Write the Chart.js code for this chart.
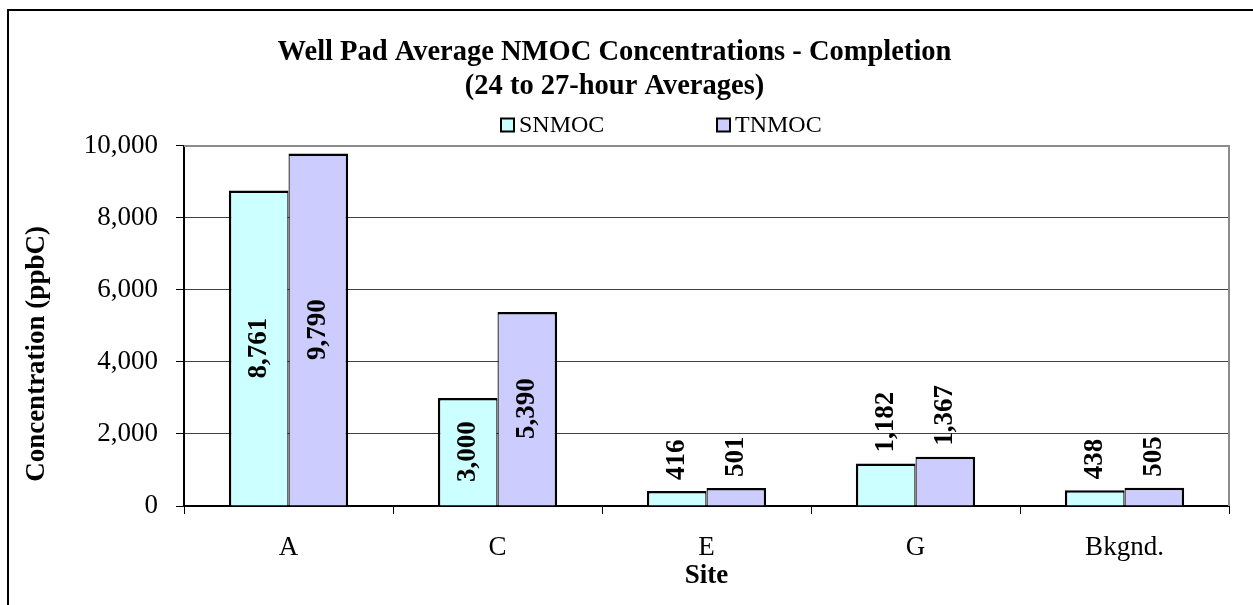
<!DOCTYPE html>
<html>
<head>
<meta charset="utf-8">
<title>Well Pad Average NMOC Concentrations - Completion</title>
<script src="https://cdn.jsdelivr.net/npm/chart.js@4.4.1/dist/chart.umd.min.js"></script>
<style>
  html, body { margin: 0; padding: 0; background: #fff; }
  #wrap { width: 1253px; height: 605px; }
</style>
</head>
<body>
<div id="wrap"><canvas id="chart" width="1253" height="605"></canvas></div>
<script>
// Sites sampled and their average concentrations (ppbC)
const sites = ['A', 'C', 'E', 'G', 'Bkgnd.'];
const snmoc = [8761, 3000, 416, 1182, 438];
const tnmoc = [9790, 5390, 501, 1367, 505];
const seriesNames = ['SNMOC', 'TNMOC'];
const yTicks = [0, 2000, 4000, 6000, 8000, 10000];

const SERIF = '"Liberation Serif", "Times New Roman", Times, serif';

// White page with the outer frame (left and top edges)
const framePlugin = {
  id: 'frame',
  beforeDraw(chart) {
    const ctx = chart.ctx;
    ctx.save();
    ctx.fillStyle = '#fff';
    ctx.fillRect(0, 0, chart.width, chart.height);
    ctx.fillStyle = '#000';
    ctx.fillRect(7, 9, 2, chart.height);
    ctx.fillRect(7, 9, chart.width, 2);
    ctx.restore();
  }
};

// Gray top and right edges of the plot area
const plotBorderPlugin = {
  id: 'plotBorder',
  beforeDatasetsDraw(chart) {
    const {ctx, chartArea: a} = chart;
    ctx.save();
    ctx.strokeStyle = '#8c8c8c';
    ctx.lineWidth = 2;
    ctx.beginPath();
    ctx.moveTo(a.left, a.top);
    ctx.lineTo(a.right, a.top);
    ctx.lineTo(a.right, a.bottom);
    ctx.stroke();
    ctx.restore();
  }
};

// Legend: two swatches spread across the space above the plot
const legendPlugin = {
  id: 'spreadLegend',
  afterDraw(chart) {
    const {ctx, chartArea: a} = chart;
    const offsets = [317, 533];
    const cy = 125;
    ctx.save();
    ctx.font = '24px ' + SERIF;
    ctx.textBaseline = 'middle';
    ctx.textAlign = 'left';
    chart.data.datasets.forEach((ds, i) => {
      const bx = a.left + offsets[i];
      ctx.fillStyle = ds.backgroundColor;
      ctx.fillRect(bx, cy - 6.5, 13, 13);
      ctx.strokeStyle = '#000';
      ctx.lineWidth = 2;
      ctx.strokeRect(bx, cy - 6.5, 13, 13);
      ctx.fillStyle = '#000';
      ctx.fillText(ds.label, bx + 18, cy + 1);
    });
    ctx.restore();
  }
};

// Vertical axis caption
const yCaptionPlugin = {
  id: 'yCaption',
  afterDraw(chart) {
    const {ctx, chartArea: a} = chart;
    ctx.save();
    ctx.translate(37, (a.top + a.bottom) / 2 + 28);
    ctx.rotate(-Math.PI / 2);
    ctx.font = 'bold 27px ' + SERIF;
    ctx.fillStyle = '#000';
    ctx.textAlign = 'center';
    ctx.textBaseline = 'middle';
    ctx.fillText('Concentration (ppbC)', 0, 0);
    ctx.restore();
  }
};

// Rotated value labels: centred in tall bars, just above short ones
const valueLabelPlugin = {
  id: 'valueLabels',
  afterDatasetsDraw(chart) {
    const ctx = chart.ctx;
    ctx.save();
    ctx.font = 'bold 27px ' + SERIF;
    ctx.fillStyle = '#000';
    ctx.textBaseline = 'middle';
    chart.data.datasets.forEach((ds, di) => {
      const meta = chart.getDatasetMeta(di);
      meta.data.forEach((bar, i) => {
        const text = ds.data[i].toLocaleString('en-US');
        const w = ctx.measureText(text).width;
        const len = bar.base - bar.y;
        ctx.save();
        if (len >= w + 12) {
          ctx.translate(bar.x, (bar.y + bar.base) / 2);
          ctx.rotate(-Math.PI / 2);
          ctx.textAlign = 'center';
        } else {
          ctx.translate(bar.x, bar.y - 11);
          ctx.rotate(-Math.PI / 2);
          ctx.textAlign = 'left';
        }
        ctx.fillText(text, 0, 0);
        ctx.restore();
      });
    });
    ctx.restore();
  }
};

new Chart(document.getElementById('chart'), {
  type: 'bar',
  data: {
    labels: sites,
    datasets: [
      {
        label: seriesNames[0],
        data: snmoc,
        backgroundColor: '#ccffff',
        borderColor: '#000',
        borderWidth: {left: 2.5, top: 2.5, right: 1.25, bottom: 0},
        borderSkipped: false,
        categoryPercentage: 0.571,
        barPercentage: 1.0
      },
      {
        label: seriesNames[1],
        data: tnmoc,
        backgroundColor: '#ccccff',
        borderColor: '#000',
        borderWidth: {left: 1.25, top: 2.5, right: 2.5, bottom: 0},
        borderSkipped: false,
        categoryPercentage: 0.571,
        barPercentage: 1.0
      }
    ]
  },
  options: {
    responsive: false,
    animation: false,
    events: [],
    layout: { padding: { left: 0, right: 24, top: 0, bottom: 0 } },
    plugins: {
      legend: { display: false },
      tooltip: { enabled: false },
      title: {
        display: true,
        text: ['Well Pad Average NMOC Concentrations - Completion', '(24 to 27-hour Averages)'],
        color: '#000',
        font: { family: SERIF, size: 28.5, weight: 'bold', lineHeight: 1.18 },
        padding: { top: 35.7, bottom: 43 }
      }
    },
    scales: {
      x: {
        offset: true,
        grid: {
          display: true,
          drawOnChartArea: false,
          drawTicks: true,
          tickLength: 8,
          tickColor: '#000',
          tickWidth: 1,
          offset: true
        },
        border: { display: true, color: '#000', width: 2 },
        ticks: {
          color: '#000',
          font: { family: SERIF, size: 27 },
          padding: 18,
          maxRotation: 0,
          autoSkip: false
        },
        title: {
          display: true,
          text: 'Site',
          color: '#000',
          font: { family: SERIF, size: 27, weight: 'bold' },
          padding: { top: 0, bottom: 13 }
        },
        afterFit(scale) { scale.height = 99; }
      },
      y: {
        min: 0,
        max: 10000,
        afterBuildTicks(scale) { scale.ticks = yTicks.map(v => ({ value: v })); },
        grid: {
          color: '#404040',
          lineWidth: 1,
          drawTicks: true,
          tickLength: 8,
          tickColor: '#000'
        },
        border: { display: true, color: '#000', width: 2 },
        ticks: {
          color: '#000',
          font: { family: SERIF, size: 27 },
          padding: 18,
          callback: v => v.toLocaleString('en-US')
        },
        afterFit(scale) { scale.width = 184; }
      }
    }
  },
  plugins: [framePlugin, plotBorderPlugin, legendPlugin, yCaptionPlugin, valueLabelPlugin]
});
</script>
</body>
</html>
